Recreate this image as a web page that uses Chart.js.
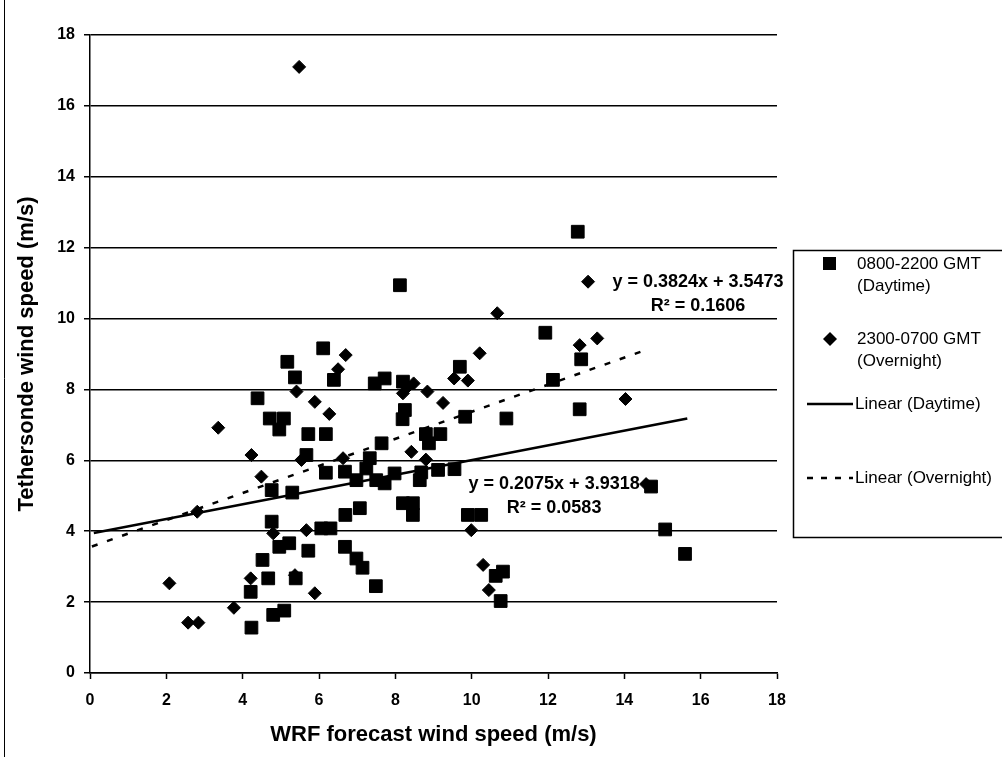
<!DOCTYPE html>
<html>
<head>
<meta charset="utf-8">
<script src="https://cdn.jsdelivr.net/npm/chart.js@4"></script>
<style>
  html, body { margin: 0; padding: 0; background: #fff; }
</style>
</head>
<body>
<canvas id="chart" width="1002" height="757"></canvas>
<script>
// Daytime (0800-2200 GMT) points
const dayX = [6.11, 5.17, 5.37, 6.39, 7.46, 7.72, 8.20, 4.39, 4.71, 5.08, 4.96, 5.72, 6.18, 8.25, 8.19, 7.64,
  8.80, 8.88, 9.18, 5.67, 7.33, 6.18, 6.68, 6.98, 7.24, 7.50, 7.72, 7.98, 8.68, 8.64, 9.12, 9.55, 4.76, 5.30,
  8.20, 8.46, 8.46, 7.07, 6.69, 4.76, 6.06, 6.30, 4.96, 5.22, 5.72, 6.68, 6.98, 7.14, 7.49, 4.52, 4.67, 5.39,
  4.21, 4.80, 5.09, 4.23, 11.93, 12.87, 9.69, 12.13, 12.83, 10.91, 9.83, 9.90, 10.25, 14.70, 15.07, 15.59,
  10.82, 10.63, 10.76, 12.78, 8.12];
const dayY = [9.16, 8.78, 8.34, 8.27, 8.17, 8.31, 8.22, 7.75, 7.18, 7.18, 6.87, 6.74, 6.74, 7.42, 7.16, 6.48,
  6.74, 6.48, 6.74, 6.15, 6.06, 5.65, 5.68, 5.44, 5.77, 5.44, 5.35, 5.63, 5.66, 5.44, 5.73, 5.75, 5.16, 5.09,
  4.79, 4.79, 4.46, 4.65, 4.46, 4.27, 4.08, 4.08, 3.56, 3.66, 3.45, 3.56, 3.23, 2.97, 2.45, 3.19, 2.67, 2.67,
  2.29, 1.64, 1.76, 1.28, 9.60, 8.85, 8.64, 8.27, 7.44, 7.18, 7.23, 4.46, 4.46, 5.26, 4.05, 3.36,
  2.86, 2.74, 2.03, 12.45, 10.94];

// Overnight (2300-0700 GMT) points
const nightX = [5.48, 13.05, 10.67, 13.29, 12.83, 10.21, 6.70, 6.50, 9.54, 9.90, 8.48, 8.84, 8.20, 5.41,
  5.89, 6.27, 14.03, 9.25, 3.36, 4.23, 5.54, 6.63, 8.42, 8.80, 4.49, 14.57, 2.81, 4.80, 5.67, 9.99, 10.30,
  10.45, 2.08, 2.57, 2.84, 3.77, 4.21, 5.37, 5.89, 8.33];
const nightY = [17.10, 11.04, 10.15, 9.44, 9.25, 9.02, 8.97, 8.57, 8.31, 8.25, 8.17, 7.94, 7.89, 7.94,
  7.65, 7.31, 7.73, 7.62, 6.92, 6.15, 6.01, 6.06, 6.24, 6.02, 5.54, 5.33, 4.55, 3.94, 4.03, 4.03, 3.05,
  2.34, 2.53, 1.42, 1.42, 1.84, 2.67, 2.76, 2.25, 8.08];

// trend line end points
const dayTrendX = [0.1, 15.65];
const dayTrendY = [3.95, 7.18];
const nightTrendX = [0.05, 14.5];
const nightTrendY = [3.57, 9.09];

const xTicks = [0, 2, 4, 6, 8, 10, 12, 14, 16, 18];
const yTicks = [0, 2, 4, 6, 8, 10, 12, 14, 16, 18];

const eqDay = ['y = 0.2075x + 3.9318', 'R\u00B2 = 0.0583'];
const eqNight = ['y = 0.3824x + 3.5473', 'R\u00B2 = 0.1606'];

const legendLabels = [['0800-2200 GMT', '(Daytime)'], ['2300-0700 GMT', '(Overnight)'], ['Linear (Daytime)'], ['Linear (Overnight)']];

const FONT = '"Liberation Sans", Arial, sans-serif';

function pts(xs, ys) {
  return xs.map((x, i) => ({ x: x, y: ys[i] }));
}

const extras = {
  id: 'extras',
  afterDraw(chart) {
    const ctx = chart.ctx;
    const xs = chart.scales.x, ys = chart.scales.y;
    ctx.save();
    ctx.fillStyle = '#000';
    ctx.strokeStyle = '#000';

    // frame line at left edge
    ctx.lineWidth = 1;
    ctx.beginPath();
    ctx.moveTo(4.5, 0);
    ctx.lineTo(4.5, 757);
    ctx.stroke();

    // trendline equations
    ctx.font = 'bold 18px ' + FONT;
    ctx.textAlign = 'center';
    ctx.textBaseline = 'middle';
    let cx = xs.getPixelForValue(15.93), cy = ys.getPixelForValue(11.03);
    ctx.fillText(eqNight[0], cx, cy);
    ctx.fillText(eqNight[1], cx, cy + 24);
    cx = xs.getPixelForValue(12.16); cy = ys.getPixelForValue(5.33);
    ctx.fillText(eqDay[0], cx, cy);
    ctx.fillText(eqDay[1], cx, cy + 24);

    // legend box
    ctx.lineWidth = 1.5;
    ctx.strokeRect(793.5, 250.5, 220, 287);
    ctx.font = '17px ' + FONT;
    ctx.textAlign = 'left';
    // square
    ctx.fillRect(823, 257, 13, 13);
    ctx.fillText(legendLabels[0][0], 857, 264);
    ctx.fillText(legendLabels[0][1], 857, 286);
    // diamond
    ctx.beginPath();
    ctx.moveTo(830, 332); ctx.lineTo(837, 339); ctx.lineTo(830, 346); ctx.lineTo(823, 339);
    ctx.closePath();
    ctx.fill();
    ctx.fillText(legendLabels[1][0], 857, 339);
    ctx.fillText(legendLabels[1][1], 857, 361);
    // solid line
    ctx.lineWidth = 2.5;
    ctx.beginPath();
    ctx.moveTo(807, 404); ctx.lineTo(853, 404);
    ctx.stroke();
    ctx.fillText(legendLabels[2][0], 855, 404);
    // dashed line
    ctx.setLineDash([6, 8]);
    ctx.beginPath();
    ctx.moveTo(807, 478); ctx.lineTo(853, 478);
    ctx.stroke();
    ctx.setLineDash([]);
    ctx.fillText(legendLabels[3][0], 855, 478);
    ctx.restore();
  }
};

new Chart(document.getElementById('chart').getContext('2d'), {
  type: 'scatter',
  data: {
    datasets: [
      {
        label: 'Linear (Daytime)',
        data: pts(dayTrendX, dayTrendY),
        showLine: true,
        borderColor: '#000',
        borderWidth: 2.5,
        pointRadius: 0,
        order: 0
      },
      {
        label: 'Linear (Overnight)',
        data: pts(nightTrendX, nightTrendY),
        showLine: true,
        borderColor: '#000',
        borderWidth: 2.5,
        borderDash: [6, 10],
        pointRadius: 0,
        order: 0
      },
      {
        label: '0800-2200 GMT (Daytime)',
        data: pts(dayX, dayY),
        pointStyle: 'rect',
        pointRadius: 9,
        backgroundColor: '#000',
        borderColor: '#000',
        borderWidth: 1,
        order: 2
      },
      {
        label: '2300-0700 GMT (Overnight)',
        data: pts(nightX, nightY),
        pointStyle: 'rectRot',
        pointRadius: 6.5,
        backgroundColor: '#000',
        borderColor: '#000',
        borderWidth: 1,
        order: 1
      }
    ]
  },
  options: {
    responsive: false,
    animation: false,
    layout: { padding: { top: 35, right: 225, left: 0, bottom: 0 } },
    plugins: { legend: { display: false }, tooltip: { enabled: false } },
    scales: {
      x: {
        type: 'linear',
        min: 0,
        max: 18,
        afterBuildTicks: s => { s.ticks = xTicks.map(v => ({ value: v })); },
        afterFit: s => { s.height = 84; },
        ticks: { color: '#000', font: { family: FONT, size: 16, weight: 'bold' }, padding: 12 },
        grid: { drawOnChartArea: false, color: '#000', tickLength: 6, tickWidth: 1.5 },
        border: { color: '#000', width: 1.5 },
        title: {
          display: true,
          text: 'WRF forecast wind speed (m/s)',
          color: '#000',
          font: { family: FONT, size: 22, weight: 'bold' },
          padding: { top: 0, bottom: 9 }
        }
      },
      y: {
        min: 0,
        max: 18,
        afterBuildTicks: s => { s.ticks = yTicks.map(v => ({ value: v })); },
        afterFit: s => { s.width = 90; },
        ticks: { color: '#000', font: { family: FONT, size: 16, weight: 'bold' }, padding: 9 },
        grid: { color: '#000', lineWidth: 1.5, tickLength: 6 },
        border: { color: '#000', width: 1.5 },
        title: {
          display: true,
          text: 'Tethersonde wind speed (m/s)',
          color: '#000',
          font: { family: FONT, size: 22, weight: 'bold' },
          padding: { top: 14, bottom: 0 }
        }
      }
    }
  },
  plugins: [extras]
});
</script>
</body>
</html>
